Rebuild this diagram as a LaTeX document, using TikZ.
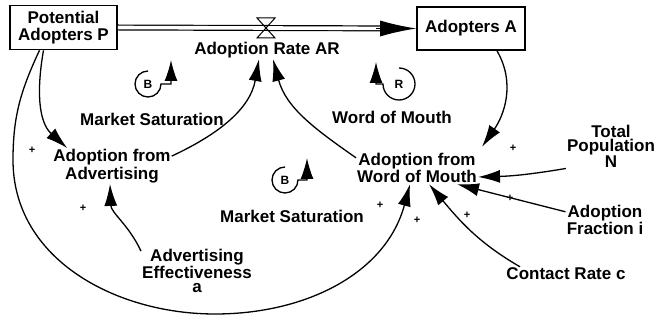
\documentclass[tikz,border=0pt]{standalone}
\usepackage{fontspec}
\setmainfont{Liberation Sans}
\usepackage{tikz}
\usetikzlibrary{arrows.meta,positioning,calc}

\begin{document}
\begin{tikzpicture}[x=1pt, y=1pt, >={Latex[length=22pt,width=13pt]},
    font={\fontsize{17}{17.5}\selectfont\bfseries},
    stock/.style={draw, line width=1.6pt, minimum width=107pt, minimum height=44pt, align=center, inner sep=2pt},
    var/.style={align=center, inner sep=1pt},
    varthin/.style={var, font={\fontsize{17}{14}\selectfont\bfseries}},
    link/.style={->, line width=1.3pt},
    loopline/.style={-{Latex[length=21pt,width=13pt]}, line width=1.3pt},
    looptag/.style={font={\fontsize{12}{12}\selectfont\bfseries}, inner sep=0pt},
    sign/.style={font={\fontsize{11}{11}\selectfont\bfseries}, inner sep=0pt}]
    \useasboundingbox (0,0) rectangle (656,324);

    % stocks and flow
    \node[stock] (P) at (63.5,296.5) {Potential\\Adopters P};
    \node[stock, minimum width=108pt, minimum height=43pt] (A) at (471,295.5) {Adopters A};
    \coordinate (valve) at (266,296);
    \draw[double, line width=1.2pt, double distance=3.6pt, shorten >=30pt] (P.east) -- (A.west);
    \draw[-{Latex[length=36pt,width=16pt]}, line width=1pt] ([xshift=-40pt]A.west) -- (A.west);
    \draw[line width=1pt] ($(valve)+(-9,10)$) -- ($(valve)+(9,10)$) -- ($(valve)+(-9,-10)$) -- ($(valve)+(9,-10)$) -- cycle;
    \node[var] (AR) at (267,274) {Adoption Rate AR};

    % auxiliaries
    \node[var] (AfA) at (112,158) {Adoption from\\Advertising};
    \node[var] (AfW) at (417,156) {Adoption from\\Word of Mouth};
    \node[varthin] (TP) at (611,178) {Total\\Population\\N};
    \node[var] (AFi) at (605,104) {Adoption\\Fraction i};
    \node[var] (CR) at (566,50) {Contact Rate c};
    \node[varthin] (AE) at (197,53) {Advertising\\Effectiveness\\a};

    % loops
    \node[var] (MS1) at (152,205) {Market Saturation};
    \node[var] (WM) at (392,207) {Word of Mouth};
    \node[var] (MS2) at (292,108) {Market Saturation};
    \node[looptag] (B1) at (148,240) {B};
    \node[looptag] (R1) at (399,240) {R};
    \node[looptag] (B2) at (285,144) {B};
    \draw[loopline] ($(B1)+(0,13)$) arc[start angle=90, end angle=360, radius=13] -- ++(10,0) -- ++(0,24);
    \draw[loopline] ($(R1)+(0,16)$) arc[start angle=90, end angle=-180, radius=16] -- ++(-7,0) -- ++(0,22);
    \draw[loopline] ($(B2)+(0,13)$) arc[start angle=90, end angle=360, radius=13] -- ++(9,0) -- ++(0,22);

    % links
    \draw[link] ([xshift=-20pt]P.south) to[out=-100,in=138] ([xshift=15pt]AfA.north west);
    \draw[link] ([xshift=-24pt]P.south) to[out=-115,in=90] (13,164) to[out=-90,in=180] (215,10) to[out=0,in=-105] ([xshift=-7pt]AfW.south);
    \draw[link] ([yshift=-8pt]AfA.north east) to[out=25,in=-100] ([xshift=-8pt]AR.south);
    \draw[link] ([yshift=-6pt]AfW.north west) to[out=145,in=-75] ([xshift=6pt]AR.south);
    \draw[link] ([xshift=26pt]A.south) to[out=-60,in=55] ([shift={(4pt,5pt)}]AfW.north east);
    \draw[link] (TP.south west) to[bend left=4] ([yshift=-9pt]AfW.east);
    \draw[link] ([yshift=-8pt]AFi.north west) -- ([xshift=-21pt]AfW.south east);
    \draw[link] ([xshift=-46pt]CR.north) to[out=150,in=-50] ([xshift=12pt]AfW.south);
    \draw[link] ([yshift=-3pt]AE.north west) to[out=115,in=-88] ([xshift=-2pt]AfA.south);

    % polarities
    \node[sign] (s1) at (32,174) {+};
    \node[sign] (s2) at (83,116) {+};
    \node[sign] (s3) at (513,176) {+};
    \node[sign] (s4) at (510,126) {+};
    \node[sign] (s5) at (467,109) {+};
    \node[sign] (s6) at (380,119) {+};
    \node[sign] (s7) at (417,104) {+};
\end{tikzpicture}
\end{document}
